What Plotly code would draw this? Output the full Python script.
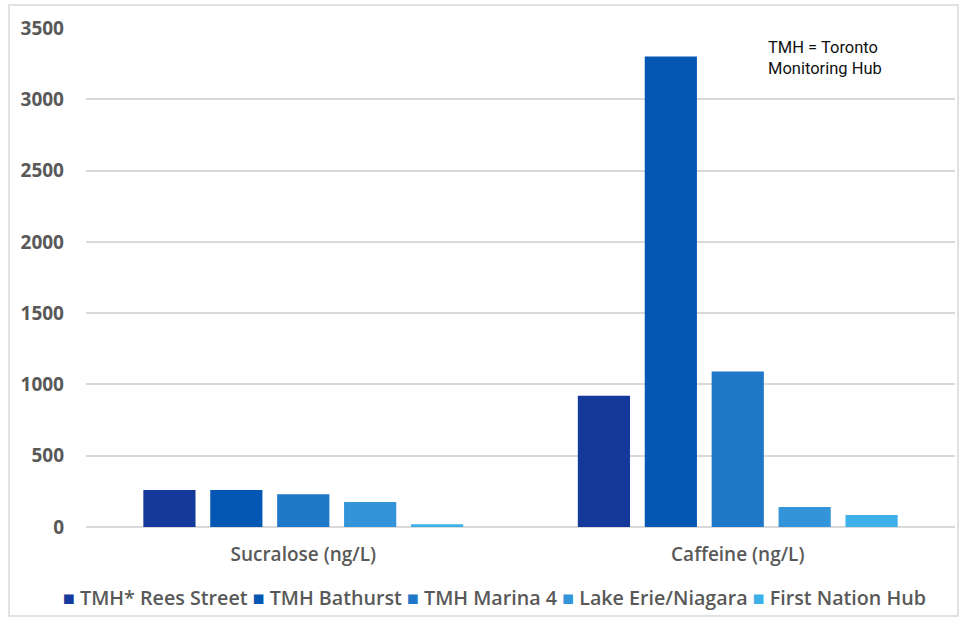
import plotly.graph_objects as go

categories = ["Sucralose (ng/L)", "Caffeine (ng/L)"]
series_names = ["TMH* Rees Street", "TMH Bathurst", "TMH Marina 4", "Lake Erie/Niagara", "First Nation Hub"]
rees_street = [260, 920]
bathurst = [260, 3300]
marina_4 = [230, 1090]
lake_erie = [175, 140]
first_nation = [20, 85]
series_values = [rees_street, bathurst, marina_4, lake_erie, first_nation]
colors = ["#15399a", "#0457b3", "#1f77c8", "#3394da", "#3db0ea"]
y_ticks = [0, 500, 1000, 1500, 2000, 2500, 3000, 3500]

fig = go.Figure()
for name, vals, col in zip(series_names, series_values, colors):
    fig.add_trace(go.Bar(x=categories, y=vals, name=name, marker=dict(color=col, line=dict(width=0))))

W, H = 960, 620
L, R, T, B = 86, 5, 28, 93
pw, ph = W - L - R, H - T - B

def px(x):
    return (x - L) / pw

def py(y):
    return (H - B - y) / ph

legend_text = "&nbsp;".join(
    f'<span style="color:{c}">■</span>&nbsp;{n}' for n, c in zip(series_names, colors)
)

fig.update_layout(
    width=W, height=H,
    margin=dict(l=L, r=R, t=T, b=B, autoexpand=False),
    paper_bgcolor="white", plot_bgcolor="white",
    barmode="group", bargap=0.23, bargroupgap=0.22,
    font=dict(family="Open Sans", color="#595959"),
    showlegend=False,
    xaxis=dict(showgrid=False, showline=False, ticks="",
               tickfont=dict(size=19, color="#595959", family="Open Sans", weight=600),
               ticklabelstandoff=14, range=[-0.5, 1.5]),
    yaxis=dict(range=[0, 3500], tickvals=y_ticks, showgrid=True, gridcolor="#d9d9d9", gridwidth=1.5,
               zeroline=True, zerolinecolor="#d9d9d9", zerolinewidth=1.5, showline=False,
               tickfont=dict(size=19, color="#595959", family="Open Sans", weight="bold"),
               ticklabelstandoff=21),
    annotations=[
        dict(text="TMH = Toronto<br>Monitoring Hub", xref="paper", yref="paper",
             x=px(766), y=py(36), xanchor="left", yanchor="top", align="left",
             showarrow=False, font=dict(size=16.5, color="#111111", family="Roboto")),
        dict(text=legend_text, xref="paper", yref="paper", x=px(494), y=py(597),
             xanchor="center", yanchor="middle", showarrow=False,
             font=dict(size=19.7, color="#595959", family="Open Sans", weight=600)),
    ],
    shapes=[dict(type="rect", xref="paper", yref="paper", x0=px(9), x1=px(958), y0=py(616), y1=py(5),
                 line=dict(color="#d9d9d9", width=1.5), fillcolor="rgba(0,0,0,0)", layer="below")],
)

fig.write_html("out.html")
